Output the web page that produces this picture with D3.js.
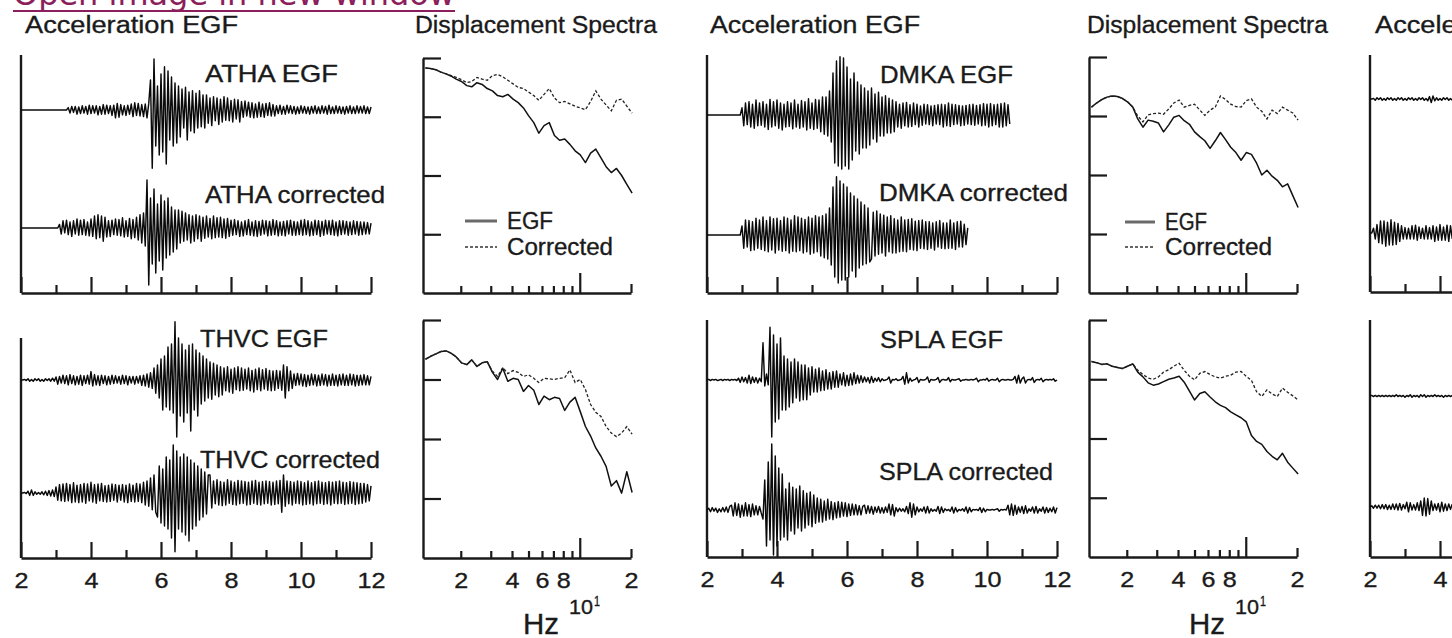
<!DOCTYPE html>
<html><head><meta charset="utf-8">
<script src="https://cdn.jsdelivr.net/npm/d3@7"></script>
<style>html,body{margin:0;padding:0;background:#fff;overflow:hidden}</style>
</head><body>
<svg id="c" width="1452" height="638"></svg>
<script>
// ---------------- DATA ----------------
const timeStart = 2, timeStep = 0.05;             // seismogram sampling (s)
const timeDomain = [2, 12];
const timeTicksMajor = [2, 4, 6, 8, 10, 12];
const timeTicksMinor = [3, 5, 7, 9, 11];
const timeTickLabels = ["2", "4", "6", "8", "10", "12"];

const freqDomain = [1.2, 20];
const freqTicksMinor = [2, 3, 4, 5, 6, 7, 8, 9];
const freqTicksDecade = [10];
const freqTicksEnd = [20];
const freqLabelValues = [2, 4, 6, 8, 20];
const freqLabels = ["2", "4", "6", "8", "2"];
const ampDecadeTicks = [0, -1, -2, -3];           // log10 amplitude
const ampDomain = [-4, 0];

const specFreq = [1.24,1.33,1.43,1.53,1.64,1.76,1.88,2.02,2.17,2.32,2.49,2.67,2.86,3.07,3.29,3.53,3.78,4.06,4.35,4.67,5.0,5.37,5.75,6.17,6.62,7.1,7.61,8.16,8.75,9.39,10.07,10.8,11.58,12.42,13.32,14.28,15.32,16.43,17.62,18.9,20.3];

// Spectra (log10 amplitude)
const athaSpecEGF = [-0.17,-0.18,-0.20,-0.24,-0.27,-0.31,-0.36,-0.40,-0.47,-0.49,-0.42,-0.45,-0.52,-0.56,-0.64,-0.66,-0.62,-0.70,-0.76,-0.85,-0.98,-1.10,-1.28,-1.15,-1.10,-1.32,-1.40,-1.38,-1.47,-1.58,-1.65,-1.78,-1.62,-1.55,-1.70,-1.85,-1.95,-1.88,-2.00,-2.15,-2.30];
const athaSpecCorr = [-0.17,-0.18,-0.20,-0.24,-0.27,-0.30,-0.33,-0.37,-0.42,-0.40,-0.33,-0.36,-0.38,-0.30,-0.28,-0.32,-0.38,-0.44,-0.50,-0.52,-0.58,-0.64,-0.72,-0.62,-0.52,-0.68,-0.76,-0.74,-0.78,-0.82,-0.85,-0.88,-0.74,-0.56,-0.70,-0.80,-0.90,-0.72,-0.70,-0.82,-0.94];
const thvcSpecEGF = [-0.66,-0.61,-0.57,-0.53,-0.52,-0.56,-0.62,-0.72,-0.75,-0.67,-0.78,-0.72,-0.70,-0.88,-1.00,-0.81,-1.03,-0.98,-1.00,-1.20,-1.10,-1.18,-1.42,-1.28,-1.34,-1.30,-1.32,-1.52,-1.38,-1.30,-1.54,-1.79,-1.95,-2.15,-2.29,-2.46,-2.79,-2.70,-2.91,-2.55,-2.90];
const thvcSpecCorr = [-0.66,-0.61,-0.57,-0.53,-0.52,-0.56,-0.62,-0.72,-0.75,-0.67,-0.78,-0.72,-0.70,-0.86,-0.95,-0.80,-0.90,-0.85,-0.88,-0.95,-0.92,-0.98,-1.05,-0.98,-0.99,-1.00,-0.98,-0.97,-0.84,-1.05,-1.00,-1.17,-1.42,-1.55,-1.62,-1.79,-1.90,-1.96,-1.90,-1.79,-1.92];
const dmkaSpecEGF = [-0.85,-0.78,-0.72,-0.68,-0.66,-0.67,-0.70,-0.76,-0.85,-1.05,-1.19,-1.07,-1.09,-1.12,-1.27,-1.15,-1.02,-0.99,-1.08,-1.14,-1.27,-1.35,-1.42,-1.55,-1.42,-1.28,-1.40,-1.53,-1.62,-1.75,-1.62,-1.65,-1.80,-2.00,-1.92,-2.02,-2.09,-2.20,-2.15,-2.35,-2.55];
const dmkaSpecCorr = [-0.85,-0.78,-0.72,-0.68,-0.66,-0.67,-0.70,-0.76,-0.85,-1.00,-1.10,-0.98,-0.96,-0.95,-0.97,-0.88,-0.78,-0.73,-0.85,-0.82,-0.80,-0.90,-0.99,-0.90,-0.85,-0.66,-0.72,-0.80,-0.84,-0.85,-0.74,-0.71,-0.85,-0.92,-1.05,-0.90,-0.96,-0.85,-0.90,-0.95,-1.07];
const splaSpecEGF = [-0.70,-0.72,-0.75,-0.74,-0.78,-0.80,-0.82,-0.78,-0.74,-0.88,-0.96,-1.06,-1.10,-1.08,-1.04,-1.00,-0.98,-0.95,-1.05,-1.20,-1.35,-1.24,-1.21,-1.30,-1.38,-1.44,-1.48,-1.55,-1.60,-1.65,-1.72,-1.95,-2.05,-2.10,-2.22,-2.30,-2.36,-2.25,-2.40,-2.50,-2.60];
const splaSpecCorr = [-0.70,-0.72,-0.75,-0.74,-0.78,-0.80,-0.82,-0.78,-0.74,-0.85,-0.92,-0.98,-1.00,-0.96,-0.88,-0.84,-0.78,-0.73,-0.85,-0.95,-1.01,-0.90,-0.87,-0.92,-0.96,-0.98,-0.95,-0.93,-0.88,-0.87,-0.95,-1.02,-1.21,-1.29,-1.18,-1.25,-1.29,-1.15,-1.22,-1.28,-1.35];

// Acceleration traces (normalised amplitude, sampled every 0.05 s from 2 s)
const athaAccEGF = [0,0,0,0,0,0,0,0,0,0,0,0,0,0,0,0,0,0,0,0,0,0,0,0,0,0,0,
 0.04,-0.05,0.06,-0.04,0.06,-0.07,0.05,-0.06,0.07,-0.05,0.06,-0.07,0.08,-0.06,0.07,-0.05,0.07,-0.08,0.06,-0.07,
 0.09,-0.07,0.08,-0.06,0.07,-0.09,0.08,-0.13,0.11,-0.12,0.09,-0.08,0.07,-0.09,0.08,-0.07,0.1,-0.11,0.12,-0.09,0.11,-0.1,0.09,-0.11,0.1,-0.13,0.11,
 0.5,-0.97,0.85,-0.6,0.4,-0.75,0.6,-0.7,0.72,-0.9,0.65,-0.5,0.55,-0.6,0.45,-0.55,
 0.4,-0.45,0.35,-0.3,0.38,-0.5,0.3,-0.35,0.32,-0.38,0.28,-0.3,0.32,-0.28,0.25,-0.3,
 0.25,-0.22,0.2,-0.26,0.22,-0.18,0.2,-0.24,0.18,-0.2,0.22,-0.17,0.2,-0.18,0.16,-0.2,0.18,-0.15,0.17,-0.2,
 0.14,-0.12,0.15,-0.1,0.13,-0.12,0.12,-0.13,0.1,-0.12,0.13,-0.11,0.1,-0.12,0.11,-0.09,0.12,-0.1,0.09,-0.1,
 0.07,-0.06,0.08,-0.07,0.06,-0.07,0.08,-0.05,0.07,-0.06,0.06,-0.07,0.05,-0.06,0.07,-0.05,0.06,-0.06,0.05,-0.07,
 0.06,-0.05,0.07,-0.06,0.05,-0.06,0.07,-0.05,0.06,-0.07,0.08,-0.06,0.05,-0.06,0.07,-0.05,0.06,-0.06,0.05,-0.07,
 0.06,-0.05,0.07,-0.06,0.05,-0.06,0.07,-0.05,0.06,-0.05,0.07,-0.06,0.05,-0.06,0.05];
const athaAccCorr = [0,0,0,0,0,0,0,0,0,0,0,0,0,0,0,0,0,0,0,0,0,0,
 0.06,-0.1,0.12,-0.08,0.13,-0.11,0.1,-0.14,0.12,-0.1,0.15,-0.12,0.13,-0.11,0.14,-0.12,0.1,-0.13,0.15,-0.14,
 0.2,-0.18,0.22,-0.16,0.2,-0.22,0.18,-0.15,0.12,-0.14,0.13,-0.11,0.15,-0.12,0.14,-0.13,0.17,-0.15,0.12,-0.14,
 0.16,-0.18,0.14,-0.16,0.18,-0.2,0.22,-0.25,
 0.25,-0.3,0.8,-0.95,0.5,-0.6,0.65,-0.75,0.4,-0.55,0.55,-0.7,0.45,-0.5,0.5,-0.45,0.35,-0.4,0.3,-0.35,
 0.3,-0.25,0.28,-0.22,0.25,-0.2,0.22,-0.25,0.2,-0.22,0.22,-0.18,0.2,-0.22,0.18,-0.17,0.2,-0.15,0.16,-0.18,
 0.2,-0.16,0.17,-0.15,0.18,-0.16,0.15,-0.17,0.16,-0.14,
 0.13,-0.12,0.14,-0.11,0.12,-0.14,0.1,-0.13,0.12,-0.11,0.14,-0.12,0.1,-0.13,0.12,-0.14,0.11,-0.12,0.13,-0.1,
 0.12,-0.13,0.11,-0.12,0.14,-0.11,0.12,-0.13,0.1,-0.12,0.11,-0.13,0.12,-0.1,0.13,-0.12,0.11,-0.12,0.1,-0.11,
 0.13,-0.12,0.14,-0.11,0.12,-0.13,0.1,-0.12,0.13,-0.11,0.12,-0.14,0.11,-0.12,0.13,-0.1,0.12,-0.11,0.13,-0.12,
 0.1,-0.13,0.12,-0.11,0.12,-0.1,0.11,-0.12,0.1,-0.11,0.12,-0.1,0.11,-0.12,0.1,-0.11,0.1,-0.1,0.09,-0.1,0.08];
const thvcAccEGF = [0,0,0.01,-0.01,0.02,-0.02,0.01,-0.02,0.02,-0.01,0.02,-0.02,0.01,-0.02,0.02,-0.01,0.02,-0.02,0.03,-0.02,
 0.05,-0.07,0.06,-0.05,0.08,-0.06,0.07,-0.08,0.09,-0.06,0.07,-0.08,0.06,-0.07,0.08,-0.09,0.07,-0.06,0.08,-0.07,
 0.14,-0.1,0.09,-0.08,0.07,-0.09,0.08,-0.06,0.07,-0.08,0.06,-0.07,0.08,-0.06,0.07,-0.05,0.06,-0.07,0.08,-0.06,
 0.07,-0.08,0.06,-0.05,0.06,-0.07,0.06,-0.05,0.07,-0.09,0.08,-0.1,0.1,-0.12,0.12,-0.14,
 0.2,-0.22,0.25,-0.3,0.35,-0.5,0.4,-0.45,
 0.55,-0.5,0.6,-0.55,0.97,-0.95,0.7,-0.6,0.6,-0.7,0.5,-0.55,0.58,-0.85,0.6,-0.5,0.5,-0.6,0.45,-0.4,0.4,-0.35,
 0.35,-0.3,0.3,-0.32,0.28,-0.25,0.25,-0.28,0.22,-0.25,
 0.2,-0.18,0.22,-0.2,0.18,-0.22,0.2,-0.16,0.22,-0.18,0.2,-0.17,0.18,-0.15,0.2,-0.18,0.16,-0.2,0.18,-0.16,
 0.2,-0.18,0.17,-0.15,0.19,-0.17,0.16,-0.18,0.15,-0.17,0.16,-0.14,0.15,-0.17,0.25,-0.3,0.22,-0.18,0.15,-0.14,
 0.1,-0.09,0.11,-0.08,0.1,-0.1,0.09,-0.11,0.08,-0.09,0.1,-0.08,0.09,-0.1,0.08,-0.09,0.1,-0.08,0.09,-0.1,
 0.08,-0.09,0.1,-0.09,0.08,-0.1,0.09,-0.08,0.1,-0.09,0.08,-0.09,0.1,-0.08,0.09,-0.1,0.08,-0.09,0.08,-0.08,
 0.09,-0.08,0.07,-0.08,0.06];
const thvcAccCorr = [0,0,0.01,-0.01,0.03,-0.04,0.05,-0.04,0.02,-0.02,0.01,-0.02,0.02,-0.03,0.03,-0.04,0.04,-0.05,0.05,-0.06,
 0.1,-0.12,0.14,-0.13,0.15,-0.14,0.16,-0.13,0.14,-0.16,0.17,-0.15,0.13,-0.16,0.14,-0.15,0.16,-0.17,0.15,-0.13,
 0.18,-0.15,0.14,-0.17,0.15,-0.13,0.16,-0.14,0.12,-0.15,0.13,-0.14,0.15,-0.12,0.14,-0.15,0.13,-0.12,0.14,-0.15,
 0.13,-0.16,0.15,-0.14,0.13,-0.15,0.16,-0.14,0.15,-0.16,0.18,-0.2,0.2,-0.22,0.25,-0.28,0.3,-0.32,
 -0.4,0.45,-0.5,0.4,-0.55,0.6,-0.6,0.55,-0.75,0.8,-0.98,0.7,-0.6,0.6,-0.65,0.65,-0.7,0.6,-0.8,0.55,-0.6,0.5,-0.55,0.45,-0.45,0.4,-0.4,0.35,-0.35,0.3,
 0.3,-0.25,0.2,-0.18,0.22,-0.2,0.19,-0.21,0.18,-0.2,0.22,-0.17,0.2,-0.19,0.18,-0.2,0.21,-0.18,0.2,-0.17,
 0.19,-0.2,0.18,-0.19,0.2,-0.17,0.21,-0.19,0.18,-0.2,0.19,-0.18,0.2,-0.17,0.19,-0.2,0.18,-0.19,0.2,-0.18,
 0.21,-0.32,0.3,-0.22,0.2,-0.18,0.19,-0.2,0.18,-0.17,0.2,-0.18,0.19,-0.2,0.17,-0.19,0.2,-0.18,0.17,-0.2,
 0.19,-0.18,0.2,-0.17,0.18,-0.19,0.17,-0.18,0.19,-0.2,0.18,-0.17,0.19,-0.18,0.2,-0.17,0.18,-0.19,0.17,-0.18,
 0.19,-0.17,0.18,-0.19,0.17,-0.18,0.16,-0.17,0.16,-0.15,0.14,-0.13,0.12];
const dmkaAccEGF = [0,0,0,0,0,0,0,0,0,0,0,0,0,0,0,0,0,0,0,0,
 0.12,-0.18,0.2,-0.16,0.22,-0.2,0.18,-0.22,0.25,-0.18,0.2,-0.17,0.22,-0.2,0.18,-0.24,0.26,-0.2,0.22,-0.18,
 0.25,-0.22,0.2,-0.25,0.18,-0.2,0.22,-0.19,0.2,-0.23,0.25,-0.2,0.18,-0.22,0.24,-0.2,0.22,-0.25,0.27,-0.22,
 0.2,-0.24,0.26,-0.22,0.25,-0.28,0.3,-0.32,0.3,-0.35,0.4,-0.45,
 0.7,-0.8,0.9,-0.85,0.97,-0.9,0.95,-0.85,0.8,-0.9,0.6,-0.75,0.7,-0.6,0.55,-0.65,0.5,-0.55,
 0.45,-0.55,0.4,-0.5,0.45,-0.4,0.35,-0.45,0.38,-0.35,0.3,-0.35,0.32,-0.3,0.28,-0.3,0.25,-0.28,
 0.22,-0.2,0.18,-0.22,0.2,-0.18,0.21,-0.2,0.17,-0.19,0.2,-0.16,0.18,-0.2,0.15,-0.17,0.18,-0.15,0.17,-0.16,
 0.15,-0.18,0.16,-0.15,0.17,-0.16,0.18,-0.2,0.17,-0.18,0.2,-0.19,0.18,-0.16,0.17,-0.15,0.16,-0.18,0.15,-0.17,
 0.16,-0.15,0.17,-0.16,0.18,-0.17,0.16,-0.15,0.17,-0.18,0.19,-0.17,0.18,-0.2,0.19,-0.18,0.17,-0.16,0.18,-0.2,
 0.19,-0.2,0.2,-0.18,0.17,-0.15];
const dmkaAccCorr = [0,0,0,0,0,0,0,0,0,0,0,0,0,0,0,0,0,0,0,0,
 0.15,-0.22,0.25,-0.2,0.24,-0.26,0.22,-0.25,0.28,-0.22,0.25,-0.24,0.3,-0.26,0.24,-0.28,0.3,-0.25,0.27,-0.3,
 0.28,-0.25,0.24,-0.27,0.3,-0.26,0.28,-0.3,0.25,-0.27,0.32,-0.28,0.3,-0.26,0.28,-0.3,0.26,-0.28,0.3,-0.32,
 0.28,-0.3,0.32,-0.28,0.3,-0.35,0.32,-0.38,0.35,-0.4,0.45,-0.5,
 0.8,-0.7,0.97,-0.8,0.9,-0.75,0.85,-0.75,0.8,-0.7,0.7,-0.6,0.65,-0.7,0.6,-0.55,0.55,-0.5,0.5,-0.48,0.45,-0.45,
 -0.4,0.38,-0.35,0.4,-0.32,0.35,-0.3,0.33,-0.35,0.3,-0.28,0.32,-0.3,0.27,-0.3,0.25,-0.28,0.3,-0.27,0.25,-0.28,0.26,-0.24,0.27,-0.25,0.23,-0.26,0.24,-0.22,0.25,-0.23,0.22,-0.24,0.22,
 -0.22,0.2,-0.25,0.22,-0.2,0.24,-0.22,0.2,-0.23,0.2,-0.22,0.25,-0.22,0.2,-0.24,0.22,-0.2,0.23,-0.2,0.18,-0.16,0.12];
const splaAccEGF = [0,0.01,-0.01,0.01,0,0.01,-0.01,0,0.01,-0.01,0.01,0,0.01,-0.01,0.01,0,0.01,-0.01,
 0.03,-0.04,0.05,-0.03,0.04,-0.05,0.08,-0.06,0.05,-0.04,0.04,-0.05,0.03,-0.03,
 0.62,-0.1,0.1,-0.08,
 0.88,-0.95,0.75,-0.7,0.6,-0.65,0.7,-0.5,
 0.4,-0.5,0.35,-0.45,0.3,-0.38,0.35,-0.3,0.3,-0.35,0.25,-0.33,
 0.25,-0.33,0.2,-0.25,0.22,-0.2,0.18,-0.2,0.2,-0.18,0.15,-0.17,0.17,-0.15,0.12,-0.15,0.14,-0.12,0.15,-0.12,0.1,-0.08,0.12,-0.1,0.08,-0.09,0.1,-0.08,
 0.12,-0.06,0.08,-0.05,0.07,-0.04,0.05,-0.03,0.04,-0.05,0.06,-0.04,0.03,-0.02,0.04,-0.03,0.02,-0.01,
 0,0.01,0.05,-0.05,0.01,0,0.02,-0.01,0,0.01,
 0.06,-0.07,0.12,-0.05,0.03,-0.02,0,0.01,0.04,-0.04,
 0.01,0,0,0.01,0.05,-0.04,0.01,0,0,0.01,
 0.04,-0.04,0,0.01,0,0,0.04,-0.03,0.01,0,
 0,0.01,0.02,-0.02,0,0,0.01,0,0,0.01,
 0,0.01,0.03,-0.03,0,0,0.01,0,0.03,-0.02,
 0,0.01,0,0,0.03,-0.03,0,0.01,0,0,
 0.01,0,0,0.01,0.06,-0.05,0.08,-0.05,0.02,0.05,
 -0.05,0,0.01,0,0.04,-0.04,0,0.01,0,0.03,
 -0.03,0,0.01,0,0.01,0,0.02,-0.02,0];
const splaAccCorr = [0,0.03,-0.03,0.04,-0.02,0.03,-0.04,0.02,-0.03,0.04,-0.03,0.05,-0.04,0.06,
 0.08,-0.1,0.12,-0.09,0.1,-0.12,0.08,-0.1,0.12,-0.1,0.09,-0.11,0.1,-0.08,0.07,-0.08,0.06,-0.05,
 -0.15,0.5,-0.6,0.8,-0.5,1.1,-0.75,0.9,-0.6,0.7,
 -0.5,0.6,-0.45,0.35,-0.5,0.45,-0.35,0.38,-0.4,0.35,-0.3,0.4,-0.35,0.32,-0.3,0.28,-0.25,0.3,-0.28,0.25,-0.22,0.2,
 -0.2,0.18,-0.2,0.15,-0.17,0.18,-0.15,0.14,-0.16,0.12,-0.13,0.14,-0.12,0.13,-0.1,0.12,-0.11,0.1,-0.09,0.1,-0.08,0.09,-0.08,0.07,-0.08,0.06,
 0.08,-0.06,0.07,-0.05,0.06,-0.07,0.05,-0.04,0.06,-0.05,0.04,-0.05,0.05,-0.04,0.1,-0.08,0.09,-0.1,0.04,-0.03,0.03,-0.02,0.02,-0.03,
 0.06,-0.06,0.12,-0.12,0.1,-0.08,0.05,-0.03,0.02,-0.02,
 0.05,-0.05,0.06,-0.05,0.02,-0.02,0.01,-0.02,0.06,-0.06,
 0.05,-0.04,0.02,-0.01,0.01,-0.02,0.05,-0.05,0.04,-0.03,
 0.01,-0.01,0.02,-0.02,0.05,-0.05,0.04,-0.03,0.01,0,
 0.01,-0.01,0.04,-0.04,0.03,-0.03,0.01,0,0,0.01,
 0,0.01,0.02,-0.02,0.01,0,0.01,0,0.08,-0.08,
 0.1,-0.09,0.08,-0.07,0.05,-0.04,0.06,-0.06,0.07,-0.05,
 0.02,-0.02,0.05,-0.05,0.06,-0.05,0.02,-0.02,0.05,-0.05,
 0.04,-0.04,0.03,-0.03,0.05,-0.05,0.04];
const g3TopEGF = [0,0,0.01,-0.02,0.02,-0.01,0.02,-0.02,0.01,-0.02,0.02,-0.01,0.02,-0.02,0.01,-0.02,0.02,-0.01,0.02,-0.02,0.01,-0.02,0.02,-0.01,0.02,-0.02,0.01,-0.02,0.02,-0.01,0.02,-0.02,0.01,-0.03,0.04,-0.06,0.05,-0.03,0.02,-0.02,0.01,-0.02,0.02,-0.01,0.02,-0.02,0.01,-0.02];
const g3TopCorr = [0,0,0.08,-0.1,0.14,-0.16,0.2,-0.18,0.2,-0.22,0.18,-0.2,0.22,-0.2,0.18,-0.19,0.16,-0.14,0.12,-0.1,0.09,-0.1,0.08,-0.1,0.12,-0.1,0.13,-0.12,0.1,-0.09,0.08,-0.1,0.12,-0.1,0.09,-0.1,0.12,-0.14,0.1,-0.12,0.14,-0.12,0.1,-0.12,0.13,-0.14,0.12,-0.1];
const g3BotEGF = [0,0.01,-0.01,0.01,-0.01,0.01,-0.01,0.01,-0.01,0.01,-0.01,0.01,-0.01,0.01,-0.01,0.02,-0.01,0.01,-0.01,0.01,-0.02,0.01,-0.01,0.02,-0.02,0.01,-0.01,0.01,-0.02,0.02,-0.01,0.02,-0.02,0.01,-0.01,0.01,-0.01,0.02,-0.01,0.01,-0.01,0.01,-0.02,0.01,-0.01,0.01,-0.01,0.01];
const g3BotCorr = [0,0.02,-0.02,0.03,-0.02,0.03,-0.03,0.04,-0.03,0.04,-0.04,0.03,-0.04,0.05,-0.04,0.05,-0.05,0.06,-0.05,0.04,-0.03,0.08,-0.08,0.07,-0.05,0.04,-0.05,0.07,-0.06,0.1,-0.14,0.15,-0.15,0.14,-0.12,0.1,-0.06,0.05,-0.05,0.06,-0.08,0.08,-0.07,0.05,-0.06,0.05,-0.04,0.05];

const titleAcc = "Acceleration EGF";
const titleSpec = "Displacement Spectra";
const legendLabels = ["EGF", "Corrected"];

// ---------------- DRAWING ----------------
const svg = d3.select("#c");
const FONT = "'Liberation Sans', Arimo, Arial, Helvetica, sans-serif";
const INK = "#1a1a1a";

function txt(x, y, s, size, len, fill) {
  const t = svg.append("text").attr("x", x).attr("y", y).text(s)
    .attr("font-family", FONT).attr("font-size", size).attr("fill", fill || INK)
    .attr("stroke", fill || INK).attr("stroke-width", 0.35);
  if (len) t.attr("textLength", len).attr("lengthAdjust", "spacingAndGlyphs");
  return t;
}

// cropped link at top
svg.append("text").attr("x", 13).attr("y", 5).text("Open image in new window")
  .attr("font-family", "'DejaVu Sans', Verdana, sans-serif").attr("font-size", 32)
  .attr("fill", "#8b1e5b").attr("textLength", 442).attr("lengthAdjust", "spacingAndGlyphs");
svg.append("line").attr("x1", 13).attr("x2", 455).attr("y1", 11).attr("y2", 11)
  .attr("stroke", "#8b1e5b").attr("stroke-width", 2);

function styleAxis(g) {
  g.select(".domain").attr("stroke", INK).attr("stroke-width", 2.4);
  g.selectAll(".tick line").attr("stroke", INK).attr("stroke-width", 2.2);
  g.selectAll(".tick text").attr("font-family", FONT).attr("font-size", 22).attr("fill", INK)
    .attr("stroke", INK).attr("stroke-width", 0.35);
}

function accelPanel(x0, top, axisY, showLabels, traces) {
  const x = d3.scaleLinear().domain(timeDomain).range([x0, x0 + 350]);
  svg.append("line").attr("x1", x0).attr("x2", x0).attr("y1", top).attr("y2", axisY)
    .attr("stroke", INK).attr("stroke-width", 2.4);
  const gMaj = svg.append("g").attr("transform", `translate(0,${axisY})`)
    .call(d3.axisBottom(x).tickValues(timeTicksMajor).tickSizeInner(-16).tickSizeOuter(0).tickPadding(14)
      .tickFormat((d, i) => showLabels ? timeTickLabels[i] : ""));
  styleAxis(gMaj);
  gMaj.selectAll(".tick text").each(function () {
    const s = d3.select(this).text();
    if (s) d3.select(this).attr("textLength", s.length * 14).attr("lengthAdjust", "spacingAndGlyphs");
  });
  const gMin = svg.append("g").attr("transform", `translate(0,${axisY})`)
    .call(d3.axisBottom(x).tickValues(timeTicksMinor).tickSize(-8).tickFormat(""));
  gMin.select(".domain").remove();
  styleAxis(gMin);

  traces.forEach(tr => {
    const y = d3.scaleLinear().domain([-1, 1]).range([tr.base + 60, tr.base - 60]);
    const line = d3.line().x((d, i) => x(timeStart + i * timeStep)).y(d => y(d));
    svg.append("path").attr("d", line(tr.data)).attr("fill", "none")
      .attr("stroke", "#0a0a0a").attr("stroke-width", 1.45).attr("stroke-linejoin", "round");
    if (tr.label) txt(tr.lx, tr.ly, tr.label, 24, tr.lw);
  });
}

function specPanel(x0, top, axisY, showLabels, egf, corr, legend) {
  const x = d3.scaleLog().domain(freqDomain).range([x0, x0 + 208]);
  const y = d3.scaleLinear().domain(ampDomain).range([axisY, top]);
  const gy = svg.append("g").attr("transform", `translate(${x0},0)`)
    .call(d3.axisRight(y).tickValues(ampDecadeTicks).tickSizeInner(18).tickSizeOuter(0).tickFormat(""));
  styleAxis(gy);
  const g1 = svg.append("g").attr("transform", `translate(0,${axisY})`)
    .call(d3.axisBottom(x).tickValues(freqTicksMinor).tickSizeInner(-7).tickSizeOuter(0).tickFormat(""));
  styleAxis(g1);
  const g2 = svg.append("g").attr("transform", `translate(0,${axisY})`)
    .call(d3.axisBottom(x).tickValues(freqTicksDecade).tickSize(-20).tickFormat(""));
  g2.select(".domain").remove(); styleAxis(g2);
  const g3 = svg.append("g").attr("transform", `translate(0,${axisY})`)
    .call(d3.axisBottom(x).tickValues(freqTicksEnd).tickSize(-9).tickFormat(""));
  g3.select(".domain").remove(); styleAxis(g3);
  if (showLabels) {
    const gl = svg.append("g").attr("transform", `translate(0,${axisY})`)
      .call(d3.axisBottom(x).tickValues(freqLabelValues).tickSize(0).tickPadding(14)
        .tickFormat((d, i) => freqLabels[i]));
    gl.select(".domain").remove(); styleAxis(gl);
    gl.selectAll(".tick text").attr("textLength", 14).attr("lengthAdjust", "spacingAndGlyphs");
    txt(x0 + 100, 634, "Hz", 30, 36);
    txt(x0 + 146, 614, "10", 20, 24);
    txt(x0 + 171, 606, "1", 14, 6);
  }
  const line = d3.line().x((d, i) => x(specFreq[i])).y(d => y(d));
  svg.append("path").attr("d", line(egf)).attr("fill", "none")
    .attr("stroke", "#111").attr("stroke-width", 1.5).attr("stroke-linejoin", "round");
  svg.append("path").attr("d", line(corr)).attr("fill", "none")
    .attr("stroke", "#222").attr("stroke-width", 1.3).attr("stroke-dasharray", "3,2");
  if (legend) {
    svg.append("line").attr("x1", legend.x1).attr("x2", legend.x2).attr("y1", legend.y1).attr("y2", legend.y1)
      .attr("stroke", "#6a6a6a").attr("stroke-width", 3);
    svg.append("line").attr("x1", legend.x1).attr("x2", legend.x2).attr("y1", legend.y2).attr("y2", legend.y2)
      .attr("stroke", "#333").attr("stroke-width", 1.3).attr("stroke-dasharray", "3,2");
    txt(legend.tx, legend.y1 + 8, legendLabels[0], 23, legend.w1);
    txt(legend.tx, legend.y2 + 8, legendLabels[1], 23, legend.w2);
  }
}

// Titles
txt(25, 33, titleAcc, 23.5, 213);
txt(415, 33, titleSpec, 23.5, 242);
txt(710, 33, titleAcc, 23.5, 210);
txt(1087, 33, titleSpec, 23.5, 241);
txt(1375, 33, titleAcc, 23.5, 213);

// Group 1
accelPanel(21, 55, 293, false, [
  { base: 110, data: athaAccEGF, label: "ATHA EGF", lx: 205, ly: 82, lw: 133 },
  { base: 228, data: athaAccCorr, label: "ATHA corrected", lx: 205, ly: 203, lw: 180 }
]);
accelPanel(21, 338, 558, true, [
  { base: 380, data: thvcAccEGF, label: "THVC EGF", lx: 200, ly: 347, lw: 128 },
  { base: 493, data: thvcAccCorr, label: "THVC corrected", lx: 200, ly: 468, lw: 180 }
]);
specPanel(423, 58, 293, false, athaSpecEGF, athaSpecCorr,
  { x1: 465, x2: 497, y1: 221, y2: 247, tx: 507, w1: 46, w2: 106 });
specPanel(423, 320, 558, true, thvcSpecEGF, thvcSpecCorr, null);

// Group 2
accelPanel(707, 55, 293, false, [
  { base: 115, data: dmkaAccEGF, label: "DMKA EGF", lx: 880, ly: 83, lw: 133 },
  { base: 235, data: dmkaAccCorr, label: "DMKA corrected", lx: 879, ly: 201, lw: 189 }
]);
accelPanel(707, 320, 557, true, [
  { base: 380, data: splaAccEGF, label: "SPLA EGF", lx: 880, ly: 348, lw: 123 },
  { base: 510, data: splaAccCorr, label: "SPLA corrected", lx: 879, ly: 480, lw: 174 }
]);
specPanel(1089, 57, 293, false, dmkaSpecEGF, dmkaSpecCorr,
  { x1: 1125, x2: 1155, y1: 222, y2: 247, tx: 1165, w1: 42, w2: 107 });
specPanel(1089, 320, 557, true, splaSpecEGF, splaSpecCorr, null);

// Group 3 (cut off at right edge)
accelPanel(1370, 55, 292, false, [
  { base: 99, data: g3TopEGF }, { base: 233, data: g3TopCorr }
]);
accelPanel(1370, 320, 557, true, [
  { base: 396, data: g3BotEGF }, { base: 507, data: g3BotCorr }
]);
</script>
</body></html>
